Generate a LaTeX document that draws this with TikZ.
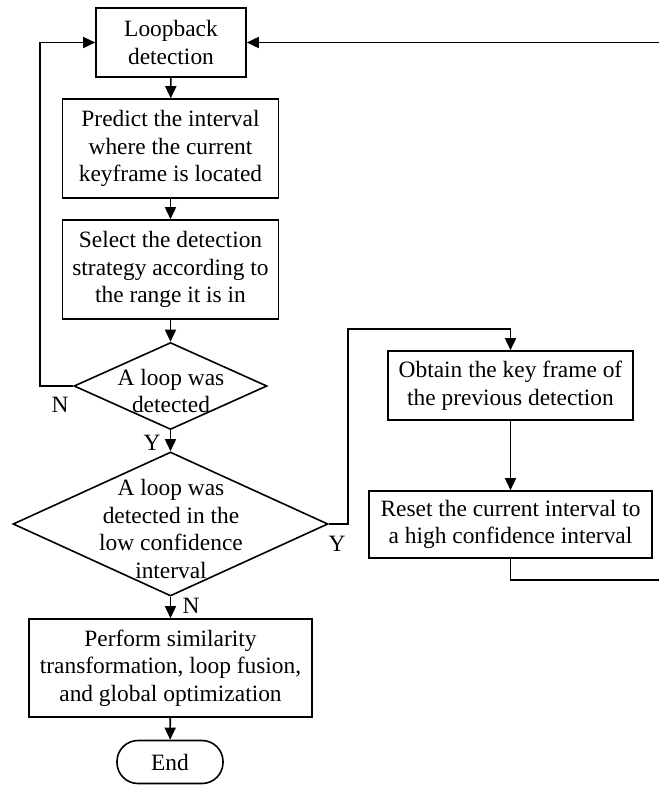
\documentclass[tikz,border=0pt]{standalone}
\usepackage{fontspec}
\setmainfont{Liberation Serif}
\usetikzlibrary{arrows.meta,shapes.geometric}
\begin{document}
\begin{tikzpicture}[x=1pt,y=-1pt,
  every node/.style={font=\fontsize{23.4}{27.5}\selectfont},
  proc/.style={draw,line width=1.6pt,rectangle,align=center,inner sep=0pt},
  dec/.style={draw,line width=1.6pt,diamond,inner sep=0pt},
  txt/.style={align=center,inner sep=0pt},
  term/.style={draw,line width=1.6pt,rectangle,rounded corners=21pt,inner sep=0pt},
  conn/.style={line width=1.6pt,-{Triangle[length=12pt,width=11pt]}},
  plain/.style={line width=1.6pt},
  lbl/.style={inner sep=0pt}]
\useasboundingbox (0,0) rectangle (659,785);
\node[proc,minimum width=150pt,minimum height=69pt] (loop) at (171,42.5) {Loopback\\detection};
\node[proc,minimum width=216pt,minimum height=99pt] (pred) at (170.5,148.5) {Predict the interval\\where the current\\keyframe is located};
\node[proc,minimum width=216pt,minimum height=99pt] (sel) at (170.5,269.5) {Select the detection\\strategy according to\\the range it is in};
\node[dec,minimum width=193pt,minimum height=87pt] (d1) at (170.5,386) {};
\node[txt] (d1t) at (171,391) {A loop was\\detected};
\node[dec,minimum width=315pt,minimum height=144pt] (d2) at (170.5,524) {};
\node[txt] (d2t) at (171,529) {A loop was\\detected in the\\low confidence\\interval};
\node[proc,minimum width=245pt,minimum height=69pt] (obt) at (510.5,385.5) {Obtain the key frame of\\the previous detection};
\node[proc,minimum width=283pt,minimum height=67pt] (rst) at (510.5,524.5) {Reset the current interval to\\a high confidence interval};
\node[proc,minimum width=283pt,minimum height=98pt] (perf) at (170.5,668) {Perform similarity\\transformation, loop fusion,\\and global optimization};
\node[term,minimum width=106pt,minimum height=43pt] (end) at (170,762) {End};
\coordinate (topR) at (659,42.5);
\coordinate (botR) at (659,580);
\draw[conn] (loop) -- (pred);
\draw[conn] (pred) -- (sel);
\draw[conn] (sel) -- (d1.north);
\draw[conn] (d1.south) -- (d2.north);
\draw[conn] (d1.west) -- (40,386) -- (40,42.5) -- (loop.west);
\draw[conn] (d2.east) -- (348,524) -- (348,329) -- (510.5,329) -- (obt.north);
\draw[conn] (obt) -- (rst);
\draw[plain] (rst.south) -- (510.5,580) -- (botR);
\draw[conn] (topR) -- (loop.east);
\draw[conn] (d2.south) -- (perf.north);
\draw[conn] (perf) -- (end);
\node[lbl] (ln1) at (60,405) {N};
\node[lbl] (ly1) at (152,443) {Y};
\node[lbl] (ly2) at (337,544) {Y};
\node[lbl] (ln2) at (191,606) {N};
\end{tikzpicture}
\end{document}
